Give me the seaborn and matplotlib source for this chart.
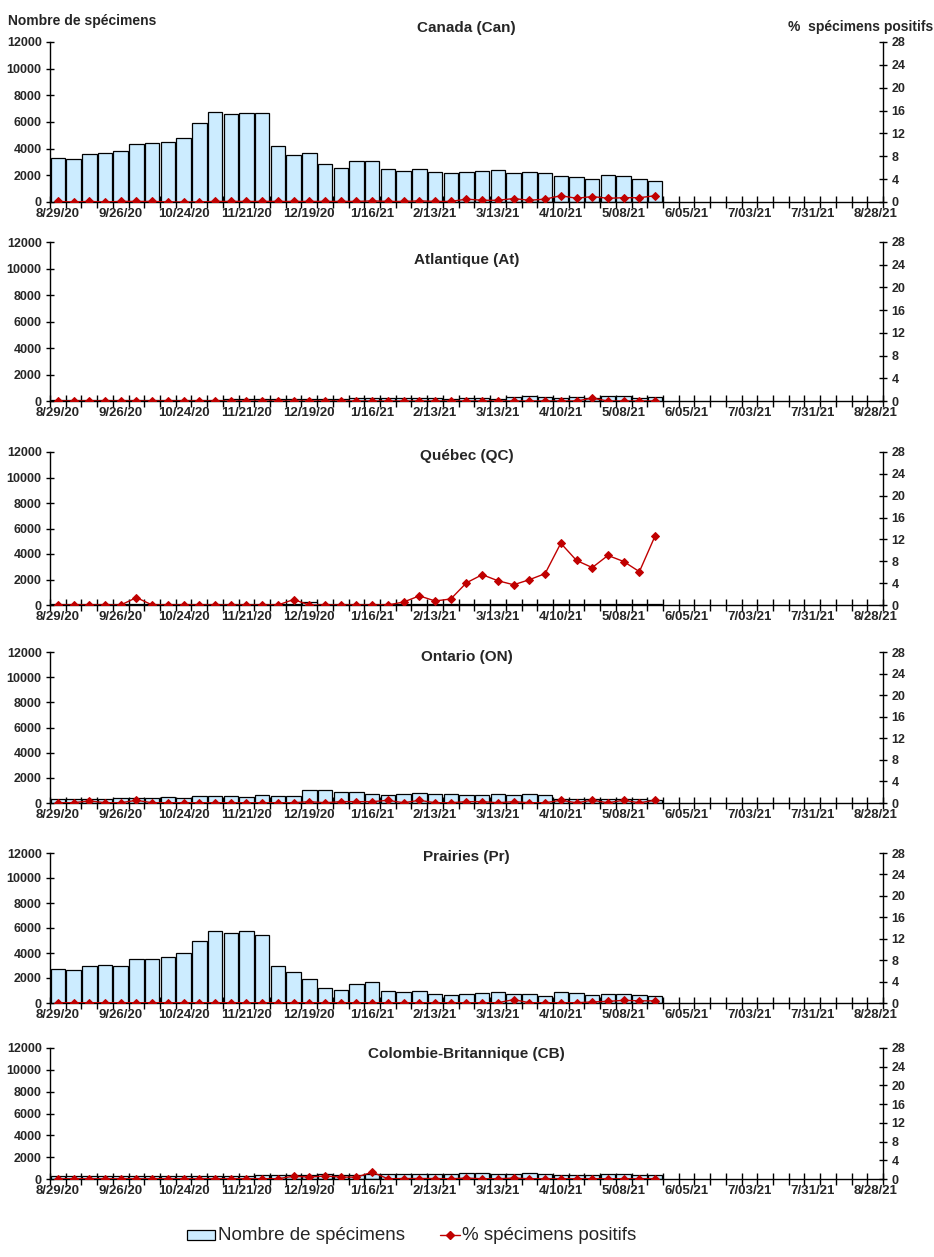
import numpy as np
import pandas as pd
import matplotlib
matplotlib.use("Agg")
import matplotlib.pyplot as plt
import seaborn as sns
from matplotlib.patches import Rectangle
from matplotlib.lines import Line2D

sns.set_theme(style="white")
plt.rcParams["font.family"] = ["Liberation Sans", "DejaVu Sans"]

# ---------------- data ----------------
weeks = [d.strftime("%Y-%m-%d") for d in pd.date_range("2020-08-29", periods=53, freq="7D")]
tick_labels = ["8/29/20", "9/26/20", "10/24/20", "11/21/20", "12/19/20", "1/16/21", "2/13/21",
               "3/13/21", "4/10/21", "5/08/21", "6/05/21", "7/03/21", "7/31/21", "8/28/21"]

canada_n = [3300, 3250, 3625, 3700, 3850, 4375, 4450, 4525, 4825, 5950, 6775, 6625, 6700, 6700,
            4225, 3550, 3700, 2875, 2575, 3100, 3100, 2500, 2350, 2500, 2275, 2200, 2275, 2350,
            2425, 2200, 2275, 2200, 1975, 1900, 1750, 2050, 1975, 1750, 1600]
canada_pct = [0.1, 0.0, 0.1, 0.0, 0.1, 0.1, 0.1, 0.0, 0.0, 0.0, 0.1, 0.1, 0.1, 0.1,
              0.1, 0.1, 0.1, 0.1, 0.1, 0.1, 0.2, 0.1, 0.1, 0.2, 0.1, 0.1, 0.5, 0.3,
              0.3, 0.6, 0.3, 0.5, 1.1, 0.65, 0.95, 0.65, 0.75, 0.75, 1.1]

atl_n = [40, 45, 45, 50, 50, 50, 55, 55, 60, 60, 70, 120, 130, 120, 130, 130, 140, 150, 150,
         230, 240, 230, 220, 240, 190, 180, 200, 190, 180, 300, 400, 300, 200, 280, 200, 380,
         380, 220, 280]
atl_pct = [0.0] * 34 + [0.5, 0.0, 0.0, 0.0, 0.0]

qc_n = [40, 40, 50, 50, 60, 100, 50, 50, 50, 60, 60, 60, 70, 70, 80, 80, 250, 60, 60, 60,
        60, 70, 70, 70, 90, 90, 90, 90, 90, 90, 100, 100, 100, 100, 100, 100, 100, 100, 90]
qc_pct = [0, 0, 0, 0, 0, 1.36, 0, 0, 0, 0, 0, 0, 0, 0, 0, 1.0, 0, 0, 0, 0, 0, 0,
          0.55, 1.67, 0.74, 1.1, 4.07, 5.55, 4.44, 3.7, 4.63, 5.74, 11.3, 8.15, 6.85,
          9.07, 7.96, 6.1, 12.65]

on_n = [330, 300, 330, 300, 385, 385, 385, 460, 385, 540, 540, 540, 460, 615, 540, 540,
        1000, 1000, 846, 846, 690, 615, 690, 770, 690, 690, 615, 615, 690, 615, 690, 615,
        300, 300, 300, 300, 300, 300, 250]
on_pct = [0.05, 0.05, 0.4, 0.05, 0.05, 0.5, 0.05, 0.05, 0.05, 0.05, 0.05, 0.05, 0.05,
          0.05, 0.05, 0.05, 0.25, 0.05, 0.25, 0.25, 0.25, 0.5, 0.05, 0.5, 0.05, 0.05,
          0.25, 0.25, 0.05, 0.25, 0.05, 0.05, 0.5, 0.05, 0.5, 0.05, 0.5, 0.05, 0.5]

pr_n = [2700, 2620, 2950, 3030, 2950, 3510, 3510, 3680, 4000, 4970, 5780, 5620, 5780, 5460,
        2950, 2460, 1890, 1240, 1080, 1490, 1650, 1000, 920, 1000, 760, 680, 760, 840, 920,
        760, 760, 600, 920, 840, 680, 760, 760, 680, 600]
pr_pct = [0.05] * 29 + [0.63, 0.05, 0.05, 0.05, 0.05, 0.2, 0.3, 0.5, 0.4, 0.4]

cb_n = [230, 230, 290, 290, 290, 290, 290, 290, 290, 290, 290, 290, 290, 370, 370, 370, 370,
        460, 370, 370, 460, 430, 430, 430, 430, 430, 510, 510, 430, 430, 510, 430, 340, 340,
        340, 430, 430, 340, 340]
cb_pct = [0.05] * 15 + [0.6, 0.4, 0.65, 0.4, 0.4, 1.45, 0.05, 0.1, 0.1, 0.1, 0.05, 0.2,
                        0.05, 0.05, 0.2, 0.05, 0.05, 0.05, 0.05, 0.05, 0.05, 0.05, 0.05, 0.05]

panels = [
    ("Canada (Can)", canada_n, canada_pct),
    ("Atlantique (At)", atl_n, atl_pct),
    ("Québec (QC)", qc_n, qc_pct),
    ("Ontario (ON)", on_n, on_pct),
    ("Prairies (Pr)", pr_n, pr_pct),
    ("Colombie-Britannique (CB)", cb_n, cb_pct),
]

# ---------------- layout (pixels) ----------------
W, H = 934, 1257
ax_left, ax_right = 50, 883
panel_px = [(42, 202), (242, 401), (452, 605), (652, 803), (853, 1003), (1048, 1179)]
title_y = [28, 260, 456, 657, 857, 1054]

BAR_COLOR = "#CCECFF"
LINE_COLOR = "#C00000"

fig = plt.figure(figsize=(W / 100, H / 100), dpi=100)

for (title, n, pct), (top, bot), ty in zip(panels, panel_px, title_y):
    ax = fig.add_axes([ax_left / W, 1 - bot / H, (ax_right - ax_left) / W, (bot - top) / H])
    df = pd.DataFrame({"week": weeks[:len(n)], "n": n})
    sns.barplot(data=df, x="week", y="n", order=weeks, color=BAR_COLOR, saturation=1,
                edgecolor="black", linewidth=0.9, width=0.92, ax=ax)
    ax.set_xlim(-0.5, len(weeks) - 0.5)
    ax.set_ylim(0, 12000)
    ax.set_yticks(np.arange(0, 12001, 2000))
    ax.set_xlabel("")
    ax.set_ylabel("")
    ax.set_xticks(np.arange(-0.5, len(weeks), 1))
    ax.set_xticklabels([])
    ax.set_xticks(np.arange(0, len(weeks), 4), minor=True)
    ax.set_xticklabels(tick_labels, minor=True, fontsize=9.5, fontweight="bold")
    ax.tick_params(axis="x", which="major", direction="inout", length=8, width=1, color="black",
                   bottom=True)
    ax.tick_params(axis="x", which="minor", length=0, pad=4, bottom=True)
    ax.tick_params(axis="y", direction="inout", length=6, width=1, color="black", left=True,
                   pad=3)
    for lab in ax.get_yticklabels():
        lab.set_fontsize(9)
        lab.set_fontweight("bold")
    for s in ["left", "bottom"]:
        ax.spines[s].set_color("black")
        ax.spines[s].set_linewidth(1)
    ax.spines["top"].set_visible(False)
    ax.spines["right"].set_visible(False)

    ax2 = ax.twinx()
    sns.lineplot(x=np.arange(len(pct)), y=pct, ax=ax2, color=LINE_COLOR, marker="D",
                 markersize=4.5, markeredgecolor=LINE_COLOR, markerfacecolor=LINE_COLOR,
                 linewidth=1)
    ax2.set_ylim(0, 28)
    ax2.set_yticks(np.arange(0, 29, 4))
    ax2.set_xlim(-0.5, len(weeks) - 0.5)
    ax2.tick_params(axis="y", direction="inout", length=6, width=1, color="black", right=True,
                    pad=3)
    for lab in ax2.get_yticklabels():
        lab.set_fontsize(9)
        lab.set_fontweight("bold")
    ax2.spines["right"].set_color("black")
    ax2.spines["right"].set_linewidth(1)
    for s in ["top", "left", "bottom"]:
        ax2.spines[s].set_visible(False)
    ax2.set_ylabel("")

    fig.text((ax_left + ax_right) / 2 / W, 1 - ty / H, title, ha="center", va="center",
             fontsize=11, fontweight="bold")

fig.text(8 / W, 1 - 21 / H, "Nombre de spécimens", ha="left", va="center", fontsize=10,
         fontweight="bold")
fig.text(933 / W, 1 - 27 / H, "%  spécimens positifs", ha="right", va="center", fontsize=10,
         fontweight="bold")

# legend
ly = 1 - 1235 / H
fig.patches.append(Rectangle((187 / W, 1 - 1240 / H), 28 / W, 10 / H, transform=fig.transFigure,
                             facecolor=BAR_COLOR, edgecolor="black", linewidth=0.9))
fig.text(218 / W, ly, "Nombre de spécimens", ha="left", va="center", fontsize=13.5)
fig.lines.append(Line2D([440 / W, 460 / W], [ly, ly], transform=fig.transFigure,
                        color=LINE_COLOR, linewidth=1))
fig.lines.append(Line2D([450 / W], [ly], transform=fig.transFigure, color=LINE_COLOR,
                        marker="D", markersize=4.5, linestyle="none"))
fig.text(462 / W, ly, "% spécimens positifs", ha="left", va="center", fontsize=13.5)

fig.savefig("out.png", dpi=100)
